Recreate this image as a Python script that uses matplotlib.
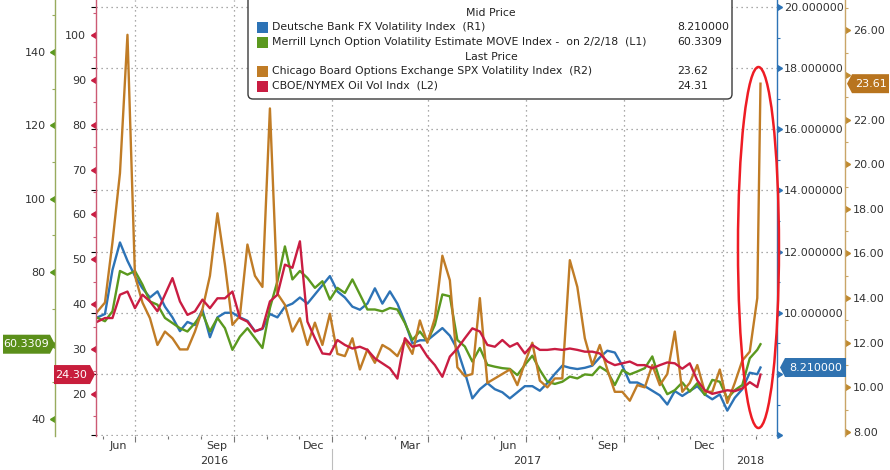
import pandas as pd
import numpy as np
import matplotlib
matplotlib.use("Agg")
import matplotlib.pyplot as plt
import matplotlib.dates as mdates
import matplotlib.ticker as mticker
import matplotlib.markers as mmarkers
from matplotlib.patches import Ellipse, FancyBboxPatch, Polygon, Rectangle
from matplotlib.transforms import blended_transform_factory, IdentityTransform

plt.rcParams["font.family"] = ["DejaVu Sans"]
plt.rcParams["axes.grid"] = False

# weekly (Friday) readings, plus the last print on 2/5/18
dates = list(pd.date_range("2016-05-27", "2018-02-02", freq="7D")) + [pd.Timestamp("2018-02-05")]

# Deutsche Bank FX Volatility Index (R1)
db_fx = [9.85, 9.96, 11.4, 12.3, 11.7, 11.2, 10.8, 10.5, 10.7, 10.2,
         9.85, 9.4, 9.7, 9.6, 10.1, 9.2, 9.85, 10.0, 10.0, 9.85,
         9.74, 9.4, 9.47, 9.96, 9.85, 10.2, 10.3, 10.5, 10.3, 10.6,
         10.9, 11.2, 10.7, 10.5, 10.2, 10.1, 10.3, 10.8, 10.3, 10.7,
         10.3, 9.7, 9.0, 9.1, 9.1, 9.3, 9.5, 9.25, 8.8, 8.05,
         7.2, 7.5, 7.7, 7.5, 7.4, 7.2, 7.4, 7.6, 7.6, 7.45,
         7.7, 8.0, 8.27, 8.2, 8.16, 8.2, 8.27, 8.54, 8.76, 8.7,
         8.27, 7.72, 7.72, 7.6, 7.45, 7.3, 7.0, 7.44, 7.28, 7.44,
         7.6, 7.33, 7.17, 7.33, 6.8, 7.22, 7.5, 8.04, 7.99, 8.21]

# Merrill Lynch MOVE Index (L1)
move = [67.5, 66.6, 69.3, 80.3, 79.3, 80.3, 76.6, 72.0, 71.1, 67.5,
        66.1, 64.7, 63.8, 66.1, 68.8, 63.8, 67.5, 64.7, 58.8, 62.4,
        64.7, 62.0, 59.3, 70.2, 77.5, 87.0, 78.0, 80.3, 78.4, 75.7,
        77.5, 72.5, 75.7, 74.3, 78.0, 73.9, 69.8, 69.8, 69.3, 70.2,
        69.8, 66.1, 61.5, 63.8, 61.1, 65.6, 73.9, 73.4, 61.5, 59.7,
        55.6, 59.3, 54.7, 54.2, 53.8, 53.6, 51.9, 54.7, 57.2, 53.3,
        50.1, 49.5, 50.1, 51.5, 51.0, 52.1, 51.9, 54.2, 52.9, 49.2,
        53.3, 52.1, 52.9, 53.8, 57.0, 50.6, 46.7, 47.8, 49.9, 47.4,
        49.7, 46.5, 50.6, 50.1, 45.5, 47.8, 49.2, 56.5, 58.8, 60.33]

# CBOE SPX Volatility Index (R2)
vix = [13.4, 13.8, 16.5, 19.6, 25.8, 15.0, 13.8, 13.1, 11.9, 12.5,
       12.2, 11.7, 11.7, 12.5, 13.5, 15.0, 17.8, 15.5, 12.8, 13.2,
       16.4, 15.0, 14.5, 22.5, 14.2, 13.7, 12.5, 13.1, 11.9, 12.9,
       11.9, 13.3, 11.5, 11.4, 12.2, 10.8, 11.7, 11.1, 11.9, 11.7,
       11.4, 12.1, 11.5, 13.0, 12.0, 13.1, 15.9, 14.8, 10.9, 10.5,
       10.6, 14.0, 10.2, 10.4, 10.6, 10.8, 10.1, 11.1, 12.0, 10.3,
       10.0, 10.4, 10.4, 15.7, 14.5, 12.2, 11.0, 11.9, 10.8, 9.8,
       9.8, 9.4, 10.1, 10.0, 11.0, 10.1, 10.6, 12.5, 9.8, 10.2,
       11.0, 9.8, 9.8, 10.8, 9.3, 10.2, 11.2, 11.6, 14.0, 23.61]

# CBOE/NYMEX Oil Vol Index (L2)
ovx = [36.1, 36.9, 36.9, 42.1, 42.8, 39.1, 42.1, 40.6, 38.4, 42.1,
       45.8, 40.6, 37.6, 38.4, 41.0, 39.1, 41.3, 41.3, 42.8, 36.9,
       36.1, 33.9, 34.6, 40.6, 42.1, 48.8, 48.1, 54.0, 36.1, 32.4,
       29.0, 28.8, 32.0, 30.9, 30.1, 30.5, 29.8, 27.9, 26.8, 25.7,
       23.4, 32.4, 30.5, 30.9, 28.3, 26.4, 23.8, 28.3, 30.1, 32.4,
       34.6, 33.9, 30.9, 30.5, 32.0, 30.5, 31.3, 29.0, 30.9, 29.8,
       29.8, 30.0, 29.8, 30.1, 29.8, 29.4, 29.4, 29.0, 27.2, 26.4,
       26.8, 27.2, 26.4, 26.4, 25.7, 26.4, 27.0, 26.8, 25.6, 26.8,
       23.0, 20.8, 20.0, 20.4, 20.8, 20.6, 21.2, 22.6, 21.5, 24.30]

legend_names = ["Deutsche Bank FX Volatility Index  (R1)",
                "Merrill Lynch Option Volatility Estimate MOVE Index -  on 2/2/18  (L1)",
                "Chicago Board Options Exchange SPX Volatility Index  (R2)",
                "CBOE/NYMEX Oil Vol Indx  (L2)"]
legend_vals = ["8.210000", "60.3309", "23.62", "24.31"]
tag_texts = ["8.210000", "60.3309", "23.61", "24.30"]

BLUE, GREEN, ORANGE, RED = "#2d73b6", "#5b991f", "#c07c26", "#c91d42"
TXT = "#333333"

W, H = 890, 470
fig = plt.figure(figsize=(W / 100, H / 100), dpi=100)
L, R, B = 96 / W, 777 / W, 1 - 436 / H
ax = fig.add_axes([L, B, R - L, 1 - B])

# base axes: grid + date axis
xlim = (pd.Timestamp("2016-05-25 15:00"), pd.Timestamp("2018-02-20 10:00"))
r1_lim = (5.97, 20.23)
ax.set_xlim(*xlim)
ax.set_ylim(*r1_lim)
ax.tick_params(axis="y", left=False, labelleft=False)
ax.xaxis.set_major_locator(mdates.MonthLocator(bymonth=[1, 4, 7, 10]))
ax.xaxis.set_minor_locator(mdates.MonthLocator())
ax.xaxis.set_major_formatter(mticker.NullFormatter())
ax.tick_params(axis="x", which="major", length=4, color="#777777", width=0.8)
ax.tick_params(axis="x", which="minor", length=2, color="#777777", width=0.8)
ax.grid(False)
for s in ax.spines.values():
    s.set_visible(False)

# dotted grid: R1 levels and quarter starts
grid_kw = dict(color="#8f8f8f", linestyle=(0, (1, 3)), linewidth=0.9, zorder=0)
for v in np.arange(6, 21, 2):
    ax.axhline(v, **grid_kw)
for d in pd.date_range("2016-07-01", "2018-01-01", freq="QS"):
    ax.axvline(d, **grid_kw)

xtr = blended_transform_factory(ax.transData, ax.transAxes)
for m in ["2016-06-15", "2016-09-15", "2016-12-15", "2017-03-15",
          "2017-06-15", "2017-09-15", "2017-12-15"]:
    d = pd.Timestamp(m)
    ax.text(d, -0.024, d.strftime("%b"), transform=xtr, ha="center", va="center",
            fontsize=8, color=TXT)
bounds = [xlim[0], pd.Timestamp("2017-01-01"), pd.Timestamp("2018-01-01"), xlim[1]]
for yr, a, b in zip(["2016", "2017", "2018"], bounds[:-1], bounds[1:]):
    ax.text(a + (b - a) / 2, -0.058, yr, transform=xtr, ha="center", va="center",
            fontsize=8, color=TXT)
for d in bounds[1:3]:
    ax.plot([d, d], [-0.03, -0.085], transform=xtr, clip_on=False, color="#bdbdbd", lw=0.8)


def setup(a, side, lim, major, minor, fmt, color, spine_color, offset_px, pad):
    a.grid(False)
    for k, s in a.spines.items():
        s.set_visible(k == side)
    a.spines[side].set_color(spine_color)
    a.spines[side].set_linewidth(1.0)
    if offset_px:
        a.spines[side].set_position(("outward", offset_px * 0.72))
    if side == "left":
        a.yaxis.tick_left()
    else:
        a.yaxis.tick_right()
    a.set_ylim(*lim)
    a.yaxis.set_major_locator(mticker.MultipleLocator(major))
    a.yaxis.set_minor_locator(mticker.MultipleLocator(minor))
    a.yaxis.set_major_formatter(mticker.FuncFormatter(fmt))
    a.tick_params(axis="y", which="major", length=4, width=1, color=color,
                  labelcolor=TXT, labelsize=8, pad=pad)
    a.tick_params(axis="y", which="minor", length=2.5, width=0.8, color=spine_color)
    mk = mmarkers.CARETLEFTBASE if side == "left" else mmarkers.CARETRIGHTBASE
    for t in a.yaxis.get_major_ticks():
        line = t.tick1line if side == "left" else t.tick2line
        line.set_marker(mk)
        line.set_markersize(4.5)
        line.set_markerfacecolor(color)
        line.set_markeredgecolor(color)


# tick labels hidden beneath the value tags are left blank
axb = ax.twinx()
setup(axb, "right", r1_lim, 2, 1,
      lambda v, p: "" if v < 9 else f"{v:.6f}", BLUE, BLUE, 0, 1.2)
axg = ax.twinx()
setup(axg, "left", (35.3, 154.2), 20, 10,
      lambda v, p: "" if abs(v - 60) < 1 else f"{v:.0f}", GREEN, "#98ab5e", 41, 2.6)
axo = ax.twinx()
setup(axo, "right", (7.82, 27.36), 2, 1,
      lambda v, p: "" if abs(v - 24) < 0.5 else f"{v:.2f}", "#c08a30", "#c9a567", 68, 1.8)
axr = ax.twinx()
setup(axr, "left", (10.6, 107.8), 10, 5,
      lambda v, p: f"{v:.0f}", RED, "#cc5a74", 0, 3.0)

lw = 1.7
axb.plot(dates, db_fx, color=BLUE, lw=lw, solid_joinstyle="round")
axg.plot(dates, move, color=GREEN, lw=lw, solid_joinstyle="round")
axo.plot(dates, vix, color=ORANGE, lw=lw, solid_joinstyle="round")
axr.plot(dates, ovx, color=RED, lw=lw, solid_joinstyle="round")


# value tags on the axes
def tag(a, value, x_tip, width, text, color, point):
    yd = a.transData.transform((0, value))[1]
    h = 19
    if point == "right":
        xs = [x_tip, x_tip - 5, x_tip - width, x_tip - width, x_tip - 5]
        tx = x_tip - 3 - width / 2
    else:
        xs = [x_tip, x_tip + 5, x_tip + width, x_tip + width, x_tip + 5]
        tx = x_tip + 3 + width / 2
    ys = [yd, yd + h / 2, yd + h / 2, yd - h / 2, yd - h / 2]
    fig.add_artist(Polygon(np.c_[xs, ys], closed=True, transform=IdentityTransform(),
                           fc=color, ec="none", zorder=5))
    fig.text(tx / W, yd / H, text, color="white", ha="center", va="center",
             fontsize=8, zorder=6)


tag(axb, db_fx[-1], R * W + 3, 66, tag_texts[0], "#2f72b0", "left")
tag(axg, move[-1], L * W - 41, 52, tag_texts[1], "#5b8f1a", "right")
tag(axo, vix[-1], R * W + 70, 42, tag_texts[2], "#b8741e", "left")
tag(axr, ovx[-1], L * W - 1, 41, tag_texts[3], "#c81e3c", "right")

# red highlight ellipse
fig.add_artist(Ellipse((0.9728, 0.4323), 0.0602, 0.828, transform=ax.transAxes,
                       fill=False, ec="#ee1c24", lw=1.8, zorder=5))

# legend box
fig.add_artist(FancyBboxPatch((248, H - 99), 732 - 248, 112,
                              boxstyle="round,pad=0,rounding_size=5",
                              transform=IdentityTransform(), fc="white",
                              ec="#3a3a3a", lw=1.0, zorder=4))
rows_y = [27, 42, 71, 86]
for ty, t in [(13, "Mid Price"), (57, "Last Price")]:
    fig.text(491 / W, 1 - ty / H, t, ha="center", va="center", fontsize=7.8,
             color="#222222", zorder=6)
for yy, name, val, c in zip(rows_y, legend_names, legend_vals, [BLUE, GREEN, ORANGE, RED]):
    fig.add_artist(Rectangle((257, H - yy - 5.5), 11, 11, transform=IdentityTransform(),
                             fc=c, ec="none", zorder=6))
    fig.text(272 / W, 1 - yy / H, name, ha="left", va="center", fontsize=7.8,
             color="#222222", zorder=6)
    fig.text(677 / W, 1 - yy / H, val, ha="left", va="center", fontsize=7.8,
             color="#222222", zorder=6)

fig.savefig("out.png", dpi=100)
